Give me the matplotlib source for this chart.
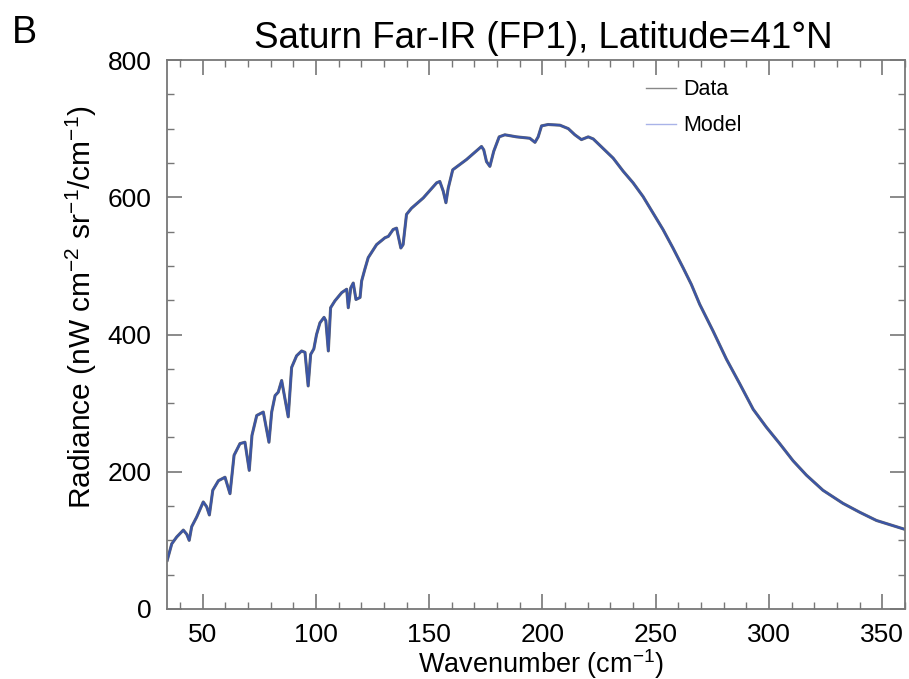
import numpy as np
import matplotlib
matplotlib.use("Agg")
import matplotlib.pyplot as plt
from matplotlib.lines import Line2D
from matplotlib.ticker import MultipleLocator

plt.rcParams['font.family'] = ['Liberation Sans', 'DejaVu Sans']
plt.rcParams['mathtext.fontset'] = 'custom'
plt.rcParams['mathtext.rm'] = 'Liberation Sans'
plt.rcParams['mathtext.it'] = 'Liberation Sans'

# wavenumber (cm^-1) and radiance (nW cm^-2 sr^-1 / cm^-1)
wavenumber = [
    34.4, 36.4, 38.6, 41.5, 43.0, 44.1, 45.2, 47.4, 50.3, 51.8, 53.0, 54.5,
    57.0, 59.9, 62.1, 63.9, 66.5, 68.7, 70.6, 71.8, 73.9, 76.8, 79.3, 80.5,
    82.0, 83.4, 84.9, 87.8, 89.3, 91.5, 93.7, 95.2, 96.6, 97.7, 99.1, 100.3,
    101.8, 103.6, 104.4, 105.5, 106.5, 108.4, 111.4, 113.6, 114.3, 115.4,
    116.5, 117.7, 119.5, 120.2, 121.6, 123.1, 126.8, 130.5, 132.0, 134.1,
    135.6, 137.5, 138.5, 140.0, 142.2, 147.4, 153.3, 154.7, 156.2, 157.4,
    158.4, 160.4, 166.5, 173.1, 174.1, 175.3, 176.8, 178.5, 180.9, 183.4,
    188.6, 194.4, 196.7, 198.1, 199.6, 202.5, 207.7, 211.4, 214.3, 217.2,
    220.2, 222.4, 226.8, 231.2, 235.6, 240.0, 244.4, 248.8, 253.2, 257.6,
    262.1, 265.7, 269.4, 275.3, 281.2, 287.1, 293.0, 298.8, 304.7, 310.6,
    316.5, 323.8, 332.6, 340.0, 347.4, 360.0,
]
radiance_data = [
    71, 95, 105, 115, 109, 100, 120, 134, 156, 149, 137, 173,
    187, 192, 168, 224, 241, 243, 202, 253, 282, 287, 243, 287,
    311, 316, 333, 280, 352, 369, 376, 374, 325, 371, 379, 400,
    417, 425, 420, 376, 439, 449, 461, 466, 439, 468,
    475, 451, 454, 478, 495, 512, 531, 541, 543, 553,
    555, 526, 531, 575, 584, 599, 621, 623, 609, 592,
    613, 640, 655, 674, 669, 652, 645, 667, 688, 691,
    688, 686, 680, 688, 704, 706, 705, 700, 691, 684,
    688, 685, 671, 657, 638, 621, 601, 577, 553, 526,
    497, 473, 444, 405, 364, 328, 291, 265, 241, 216,
    195, 173, 154, 141, 129, 116,
]
radiance_model = list(radiance_data)

title = "Saturn Far-IR (FP1), Latitude=41\u00b0N"

fig = plt.figure(figsize=(9.09, 6.79), dpi=100)
ax = fig.add_axes([167 / 909, 70 / 679, 738 / 909, 549 / 679])

ax.plot(wavenumber, radiance_data, color='#6a6a6a', lw=2.2)
ax.plot(wavenumber, radiance_model, color='#3b55a6', lw=1.6)

ax.set_xlim(34.3, 360)
ax.set_ylim(0, 800)
ax.xaxis.set_major_locator(MultipleLocator(50))
ax.xaxis.set_minor_locator(MultipleLocator(10))
ax.yaxis.set_major_locator(MultipleLocator(200))
ax.yaxis.set_minor_locator(MultipleLocator(50))
ax.tick_params(which='both', direction='in', top=True, right=True,
               color='#777777', labelsize=19)
ax.tick_params(which='major', length=11, width=1.2)
ax.tick_params(which='minor', length=5, width=1.0)
ax.tick_params(axis='x', pad=10)
ax.tick_params(axis='y', pad=11)
for s in ax.spines.values():
    s.set_color('#777777')
    s.set_linewidth(1.3)

ax.set_xlabel("Wavenumber (cm$^{-1}$)", fontsize=19.5)
ax.xaxis.set_label_coords(0.507, -0.1)
ax.xaxis.label.set_va('center')
ax.set_ylabel("Radiance (nW cm$^{-2}$ sr$^{-1}$/cm$^{-1}$)", fontsize=21.5)
ax.yaxis.set_label_coords(-0.1155, 0.55)
ax.yaxis.label.set_va('center')

fig.text(543 / 909, 1 - 38 / 679, title, fontsize=26.5, ha='center', va='center')
fig.text(12 / 909, 1 - 33 / 679, "B", fontsize=27, ha='left', va='center')

handles = [Line2D([], [], color='#888888', lw=1.0),
           Line2D([], [], color='#a9b3e8', lw=1.0)]
ax.legend(handles, ['Data', 'Model'], loc='upper left',
          bbox_to_anchor=(0.649, 0.965), frameon=False, fontsize=15.5,
          borderaxespad=0, borderpad=0,
          handlelength=1.4, handletextpad=0.35, labelspacing=0.7)

fig.savefig("out.png", dpi=100)
